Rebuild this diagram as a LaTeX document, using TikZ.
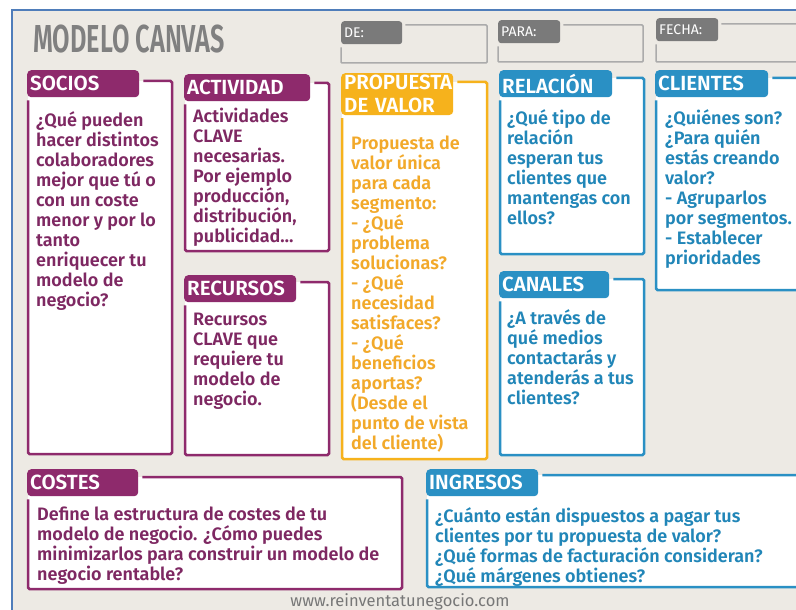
\documentclass[tikz,border=0pt]{standalone}
\usepackage{fontspec}
\setmainfont{Fira Sans}[BoldFont={* SemiBold}]
\usepackage{graphicx}
\usetikzlibrary{calc}
\definecolor{bgc}{HTML}{EDEAE4}
\definecolor{framec}{HTML}{4F7DBA}
\definecolor{pur}{HTML}{8E2A6C}
\definecolor{purtx}{HTML}{7E2862}
\definecolor{org}{HTML}{F6B21C}
\definecolor{orgtx}{HTML}{F2A92A}
\definecolor{blu}{HTML}{2A90C4}
\definecolor{blutx}{HTML}{2186B8}
\definecolor{grytag}{HTML}{7A7A7A}
\definecolor{gryline}{HTML}{ABABAB}
\definecolor{titlec}{HTML}{808080}
\definecolor{urlc}{HTML}{777777}
\tikzset{
  tagbox/.style={fill=#1, draw=none, rounded corners=4pt, text=white, anchor=north west,
    inner xsep=3pt, inner ysep=2pt, minimum height=27pt, align=left,
    font=\bfseries\fontsize{20.5}{23}\selectfont},
  boxline/.style={draw=#1, line width=2.5pt, rounded corners=1.5pt},
  bodytxt/.style={text=#1, anchor=north west, inner sep=0pt, align=left,
    font=\bfseries\fontsize{18}{20}\selectfont},
  fieldtag/.style={fill=grytag, draw=none, rounded corners=3pt, text=white, anchor=north west,
    inner xsep=3pt, inner ysep=1pt, minimum height=23pt, align=left,
    font=\fontsize{14}{14}\selectfont},
  fieldline/.style={draw=gryline, line width=1.5pt, rounded corners=1pt},
}
% #1 name, #2 colour, #3 x1, #4 y1, #5 x2, #6 y2, #7 tag top, #8 tag text width, #9 tag text
\newcommand{\canvasbox}[9]{%
  \fill[white] (#3,#4) rectangle (#5,#6);
  \node[tagbox=#2, text width=#8pt] (#1tag) at (#3-1,#7) {#9};
  \coordinate (#1tr) at (#5,#4);
  \coordinate (#1bl) at (#3,#6);
  \draw[boxline=#2] ($(#1tag.east |- #1tr)+(4,0)$) -- (#1tr) |- (#1bl)
    -- ($(#1tag.south -| #1bl)+(0,3)$);
}
% #1 name, #2 x1, #3 y1, #4 x2, #5 y2, #6 tag top, #7 tag text width, #8 text
\newcommand{\canvasfield}[8]{%
  \node[fieldtag, text width=#7pt] (#1tag) at (#2,#6) {#8};
  \coordinate (#1tr) at (#4,#3);
  \coordinate (#1bl) at (#2,#5);
  \draw[fieldline] ($(#1tag.east |- #1tr)+(3,0)$) -- (#1tr) |- (#1bl)
    -- ($(#1tag.south -| #1bl)+(0,3)$);
}
\begin{document}
\begin{tikzpicture}[x=1pt, y=-1pt]
\useasboundingbox (0,0) rectangle (796,610);
\clip (0,0) rectangle (796,610);
\fill[white] (0,0) rectangle (796,610);
\fill[bgc] (12,10) rectangle (796,610);
\draw[framec, line width=2pt] (12,610) -- (12,10) -- (796,10);

% title
\node[anchor=north west, inner sep=0pt, text=titlec] (title) at (33,25)
  {\scalebox{0.65}[1]{\bfseries\fontsize{39}{39}\selectfont MODELO CANVAS}};

% header fields
\canvasfield{de}{341}{25}{487}{63}{21}{55}{DE:}
\canvasfield{para}{498}{25}{643}{62}{20}{56}{PARA:}
\canvasfield{fecha}{656}{24}{815}{62}{18}{56}{FECHA:}

% boxes
\canvasbox{socios}{pur}{28}{81}{172}{454}{70}{106}{SOCIOS}
\canvasbox{actividad}{pur}{185}{83}{329}{251}{74}{120}{ACTIVIDAD}
\canvasbox{recursos}{pur}{185}{282}{329}{455}{275}{106}{RECURSOS}
\canvasbox{propuesta}{org}{342}{82}{487}{459}{73}{106}{PROPUESTA\\DE VALOR}
\canvasbox{relacion}{blu}{500}{78}{644}{254}{70}{107}{RELACIÓN}
\canvasbox{canales}{blu}{500}{279}{644}{455}{271}{104}{CANALES}
\canvasbox{clientes}{blu}{656}{78}{815}{290}{70}{107}{CLIENTES}
\canvasbox{costes}{pur}{28}{477}{402}{589}{469}{105}{COSTES}
\canvasbox{ingresos}{blu}{427}{475}{815}{587}{469}{106}{INGRESOS}

% texts
\node[bodytxt=purtx] (sociostxt) at (36,111) {¿Qué pueden\\hacer distintos\\colaboradores\\mejor que tú o\\con un coste\\menor y por lo\\tanto\\enriquecer tu\\modelo de\\negocio?};
\node[bodytxt=purtx] (actividadtxt) at (193,108) {Actividades\\CLAVE\\necesarias.\\Por ejemplo\\producción,\\distribución,\\publicidad…};
\node[bodytxt=purtx] (recursostxt) at (193,313) {Recursos\\CLAVE que\\requiere tu\\modelo de\\negocio.};
\node[bodytxt=orgtx] (propuestatxt) at (351,136) {Propuesta de\\valor única\\para cada\\segmento:\\- ¿Qué\\problema\\solucionas?\\- ¿Qué\\necesidad\\satisfaces?\\- ¿Qué\\beneficios\\aportas?\\(Desde el\\punto de vista\\del cliente)};
\node[bodytxt=blutx] (relaciontxt) at (507,109) {¿Qué tipo de\\relación\\esperan tus\\clientes que\\mantengas con\\ellos?};
\node[bodytxt=blutx] (canalestxt) at (507,309) {¿A través de\\qué medios\\contactarás y\\atenderás a tus\\clientes?};
\node[bodytxt=blutx] (clientestxt) at (665,109) {¿Quiénes son?\\¿Para quién\\estás creando\\valor?\\- Agruparlos\\por segmentos.\\- Establecer\\prioridades};
\node[bodytxt=purtx] (costestxt) at (37,507) {Define la estructura de costes de tu\\modelo de negocio. ¿Cómo puedes\\minimizarlos para construir un modelo de\\negocio rentable?};
\node[bodytxt=blutx] (ingresostxt) at (435,507) {¿Cuánto están dispuestos a pagar tus\\clientes por tu propuesta de valor?\\¿Qué formas de facturación consideran?\\¿Qué márgenes obtienes?};

% url
\node[anchor=base, inner sep=0pt, text=urlc, font=\fontsize{16.5}{16.5}\selectfont] (url) at (400,606) {www.reinventatunegocio.com};
\end{tikzpicture}
\end{document}
